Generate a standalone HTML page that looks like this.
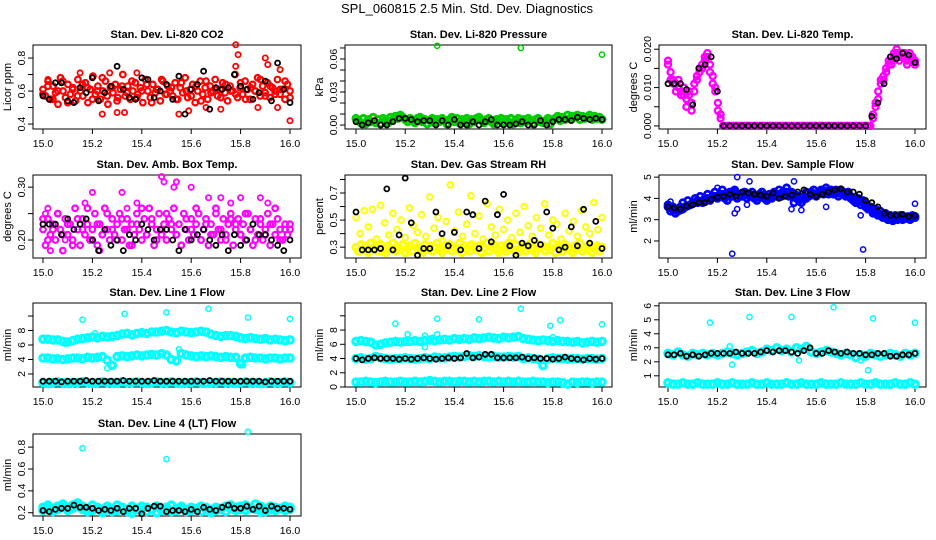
<!DOCTYPE html>
<html><head><meta charset="utf-8">
<style>
html,body{margin:0;padding:0;background:#fff;}
svg{display:block;font-family:"Liberation Sans",Arial,sans-serif;}
</style></head>
<body>
<svg id="chart" width="936" height="540" viewBox="0 0 936 540">
<text x="467" y="13" text-anchor="middle" font-size="13">SPL_060815  2.5 Min. Std. Dev. Diagnostics</text>
</svg>
<script>
// ---------- data ----------
const xTickLabels = ["15.0","15.2","15.4","15.6","15.8","16.0"];
const xTickValues = [15.0,15.2,15.4,15.6,15.8,16.0];

const co2Red = [0.61,0.57,0.66,0.55,0.63,0.59,0.52,0.68,0.6,0.56,0.64,0.58,0.62,0.54,0.67,0.6,0.57,0.65,0.53,0.61,0.69,0.58,0.63,0.55,0.6,0.66,0.52,0.62,0.59,0.64,0.56,0.61,0.7,0.57,0.63,0.55,0.6,0.65,0.58,0.62,0.53,0.67,0.6,0.56,0.64,0.59,0.61,0.54,0.66,0.58,0.63,0.6,0.57,0.65,0.55,0.62,0.59,0.68,0.56,0.61,0.64,0.53,0.6,0.66,0.58,0.62,0.55,0.63,0.6,0.67,0.57,0.61,0.65,0.59,0.54,0.63,0.6,0.7,0.56,0.62,0.58,0.66,0.61,0.55,0.64,0.6,0.68,0.57,0.63,0.59,0.65,0.56,0.62,0.6,0.67,0.58,0.61,0.55,0.64,0.6];
const co2Red2 = [0.58,0.63,0.55,0.6,0.66,0.53,0.61,0.57,0.64,0.62,0.55,0.6,0.68,0.57,0.62,0.54,0.63,0.59,0.66,0.56,0.6,0.64,0.53,0.61,0.67,0.58,0.62,0.55,0.65,0.6,0.57,0.63,0.54,0.66,0.59,0.61,0.56,0.64,0.6,0.58,0.65,0.55,0.62,0.6,0.67,0.57,0.63,0.58,0.61,0.66,0.56];
const co2OutX = [15.02,15.15,15.24,15.27,15.30,15.33,15.38,15.55,15.59,15.78,15.79,15.78,15.87,15.90,15.91,15.95,16.0,15.66,15.72,15.96];
const co2OutY = [0.67,0.71,0.46,0.71,0.47,0.47,0.71,0.46,0.48,0.88,0.82,0.75,0.50,0.80,0.76,0.50,0.42,0.50,0.49,0.73];
const co2Black = [0.57,0.55,0.65,0.65,0.54,0.53,0.62,0.59,0.68,0.54,0.59,0.63,0.75,0.61,0.56,0.55,0.68,0.67,0.56,0.6,0.64,0.55,0.69,0.46,0.61,0.64,0.72,0.49,0.62,0.61,0.62,0.7,0.63,0.61,0.55,0.59,0.66,0.54,0.77,0.61,0.53];

const presGreen = [0.006,0.004,0.002,0.006,0.001,0.005,0.003,0.007,0.002,0.005,0.001,0.006,0.004,0.002,0.007,0.005,0.008,0.006,0.009,0.007,0.005,0.003,0.006,0.004,0.002,0.006,0.007,0.003,0.005,0.001,0.004,0.006,0.002,0.005,0.003,0.006,0.004,0.001,0.005,0.007,0.003,0.006,0.002,0.005,0.004,0.006,0.001,0.005,0.003,0.006,0.007,0.004,0.002,0.005,0.006,0.003,0.001,0.005,0.004,0.006,0.002,0.005,0.003,0.006,0.001,0.004,0.006,0.002,0.005,0.003,0.006,0.004,0.001,0.005,0.006,0.003,0.002,0.004,0.006,0.001,0.005,0.006,0.008,0.004,0.007,0.005,0.009,0.006,0.008,0.007,0.009,0.005,0.008,0.006,0.007,0.009,0.005,0.008,0.006,0.007,0.005];
const presOutX = [15.33,15.67,16.0];
const presOutY = [0.072,0.070,0.064];
const presBlack = [0.003,0.000,0.002,0.004,0.000,0.000,0.003,0.006,0.006,0.005,0.003,0.004,0.004,0.0,0.004,0.0,0.005,0.0,0.0,0.003,0.0,0.003,0.005,0.0,0.0,0.0,0.001,0.003,0.0,0.0,0.004,0.0,0.003,0.005,0.005,0.004,0.007,0.006,0.005,0.006,0.005];

const tempA = [0.016,0.014,0.012,0.011,0.010,0.009,0.008,0.007,0.008,0.006,0.009,0.012,0.014,0.015,0.017,0.018,0.016,0.013,0.010,0.006,0.002,
0,0,0,0,0,0,0,0,0,0,0,0,0,0,0,0,0,0,0,0,0,0,0,0,0,0,0,0,0,0,0,0,0,0,0,0,0,0,0,0,0,0,0,0,0,0,0,0,0,0,0,0,0,0,0,0,0,
0.003,0.006,0.009,0.011,0.013,0.015,0.016,0.017,0.018,0.019,0.018,0.019,0.018,0.017,0.018,0.017,0.016];
const tempB = [0.017,0.012,0.011,0.009,0.012,0.008,0.010,0.005,0.009,0.004,0.011,0.013,0.015,0.016,0.018,0.019,0.014,0.011,0.009,0.004,0.003,
0,0,0,0,0,0,0,0,0,0,0,0,0,0,0,0,0,0,0,0,0,0,0,0,0,0,0,0,0,0,0,0,0,0,0,0,0,0,0,0,0,0,0,0,0,0,0,0,0,0,0,0,0,0,0,0,0,
0.002,0.005,0.007,0.012,0.012,0.014,0.017,0.016,0.019,0.020,0.017,0.018,0.019,0.016,0.019,0.018,0.017];
const tempBlack = [0.011,0.011,0.011,0.0095,0.0055,0.015,0.016,0.018,0.009,0,0,0,0,0,0,0,0,0,0,0,0,0,0,0,0,0,0,0,0,0,0,0,0,0.0025,0.006,0.011,0.018,0.0175,0.019,0.0185,0.0165];

const ambMag = [0.22,0.19,0.24,0.21,0.23,0.2,0.25,0.22,0.18,0.24,0.21,0.23,0.2,0.26,0.22,0.19,0.24,0.21,0.23,0.2,0.22,0.25,0.19,0.23,0.21,0.26,0.22,0.2,0.24,0.21,0.23,0.25,0.2,0.22,0.24,0.19,0.23,0.21,0.25,0.22,0.2,0.24,0.21,0.26,0.23,0.19,0.22,0.25,0.21,0.23,0.2,0.24,0.22,0.26,0.21,0.23,0.19,0.25,0.22,0.2,0.24,0.21,0.23,0.25,0.2,0.22,0.24,0.19,0.23,0.21,0.26,0.22,0.2,0.24,0.21,0.23,0.25,0.19,0.22,0.24,0.21,0.23,0.2,0.25,0.22,0.19,0.24,0.21,0.23,0.2,0.22,0.25,0.19,0.23,0.21,0.24,0.22,0.2,0.23,0.21,0.22];
const ambMag2 = [0.24,0.2,0.22,0.25,0.21,0.23,0.19,0.24,0.22,0.26,0.2,0.23,0.21,0.25,0.22,0.2,0.24,0.22,0.19,0.23,0.26,0.21,0.24,0.2,0.22,0.25,0.23,0.21,0.19,0.24,0.22,0.26,0.2,0.23,0.21,0.25,0.22,0.2,0.24,0.23,0.21,0.25,0.22,0.2,0.24,0.21,0.23,0.26,0.2,0.22,0.23];
const ambOutX = [15.01,15.02,15.06,15.2,15.17,15.32,15.34,15.38,15.48,15.49,15.53,15.54,15.6,15.67,15.72,15.76,15.8,15.88,15.91,15.94,15.03,15.23,15.09];
const ambOutY = [0.25,0.26,0.25,0.29,0.27,0.29,0.26,0.27,0.32,0.31,0.3,0.31,0.3,0.28,0.28,0.27,0.28,0.28,0.27,0.26,0.18,0.18,0.2];
const ambBlack = [0.23,0.23,0.23,0.21,0.24,0.22,0.23,0.24,0.2,0.18,0.22,0.19,0.2,0.18,0.21,0.2,0.23,0.22,0.2,0.22,0.22,0.2,0.18,0.22,0.2,0.21,0.22,0.2,0.19,0.21,0.18,0.21,0.19,0.2,0.23,0.21,0.21,0.2,0.19,0.18,0.2];

const rhBand = [0.3,0.27,0.32,0.28,0.31,0.26,0.33,0.29,0.3,0.27,0.32,0.28,0.26,0.31,0.29,0.33,0.27,0.3,0.28,0.32,0.26,0.29,0.31,0.27,0.33,0.3,0.28,0.26,0.32,0.29,0.31,0.27,0.3,0.33,0.28,0.26,0.31,0.29,0.32,0.27,0.3,0.28,0.33,0.26,0.31,0.29,0.27,0.32,0.3,0.28,0.31,0.26,0.29,0.33,0.27,0.3,0.32,0.28,0.26,0.31,0.29,0.27,0.33,0.3,0.28,0.32,0.26,0.29,0.31,0.27,0.3,0.33,0.28,0.26,0.32,0.29,0.31,0.27,0.3,0.28,0.33,0.26,0.31,0.29,0.27,0.32,0.3,0.28,0.26,0.31,0.29,0.33,0.27,0.3,0.28,0.32,0.26,0.29,0.31,0.27,0.3];
const rhScatter = [0.52,0.4,0.57,0.45,0.58,0.36,0.61,0.48,0.39,0.55,0.43,0.5,0.37,0.59,0.46,0.41,0.54,0.38,0.67,0.44,0.52,0.35,0.49,0.76,0.42,0.56,0.38,0.47,0.68,0.4,0.53,0.36,0.62,0.45,0.39,0.58,0.43,0.5,0.37,0.55,0.41,0.6,0.46,0.38,0.52,0.44,0.62,0.39,0.5,0.47,0.36,0.55,0.42,0.49,0.38,0.57,0.45,0.4,0.63,0.43,0.52];
const rhBlack = [0.56,0.28,0.28,0.28,0.29,0.73,0.28,0.39,0.81,0.48,0.24,0.29,0.29,0.56,0.4,0.31,0.41,0.28,0.56,0.54,0.29,0.64,0.34,0.54,0.69,0.31,0.24,0.33,0.31,0.35,0.32,0.56,0.44,0.28,0.3,0.45,0.31,0.58,0.33,0.49,0.29];

const flowBlue = [3.6,3.55,3.5,3.45,3.4,3.45,3.5,3.6,3.65,3.7,3.75,3.8,3.8,3.85,3.9,3.95,4.0,4.0,4.05,4.1,4.1,4.15,4.2,4.15,4.1,4.2,4.25,4.3,4.2,4.1,4.2,4.15,4.2,4.1,4.15,4.1,4.05,4.1,4.15,4.1,4.0,4.05,4.1,4.15,4.2,4.2,4.25,4.2,4.3,4.25,4.3,4.2,4.15,4.1,4.0,3.95,4.0,4.1,4.15,4.2,4.2,4.25,4.3,4.3,4.35,4.3,4.35,4.3,4.3,4.25,4.3,4.3,4.2,4.2,4.1,4.0,3.95,3.9,3.85,3.8,3.7,3.6,3.5,3.4,3.35,3.3,3.25,3.2,3.15,3.1,3.1,3.05,3.1,3.1,3.05,3.1,3.1,3.05,3.1,3.1,3.15];
const flowBlue2 = [3.7,3.4,3.6,3.3,3.5,3.6,3.8,3.6,3.9,3.7,3.8,4.0,3.9,4.1,3.8,4.0,4.2,3.9,4.1,4.3,4.0,4.2,4.4,4.0,3.9,4.3,4.1,4.4,4.0,4.2,4.1,4.3,4.0,4.2,4.3,4.0,3.9,4.2,4.3,4.0,3.9,4.2,4.0,4.3,4.1,4.4,4.1,4.3,4.5,4.1,4.2,3.8,4.0,3.9,3.8,4.1,4.3,4.1,4.3,4.4,4.1,4.2,4.4,4.2,4.5,4.2,4.4,4.2,4.4,4.1,4.4,4.2,4.1,4.3,4.0,3.9,3.8,4.0,3.7,3.9,3.6,3.5,3.6,3.3,3.5,3.2,3.4,3.1,3.3,3.0,3.2,2.95,3.2,3.0,3.2,3.0,3.1,3.15,3.0,3.2,3.1];
const flowOutX = [15.26,15.79,15.28,15.33,15.27,15.28,15.51,15.5,15.64,15.78,16.0,15.2,15.01,15.08,15.32,15.54];
const flowOutY = [1.4,1.6,5.0,4.8,3.3,3.5,4.8,3.5,3.6,3.2,3.75,4.5,3.85,3.9,3.7,3.45];
const flowBlack = [3.6,3.55,3.5,3.65,3.7,3.8,3.8,3.95,4.05,4.1,4.2,4.1,4.3,4.25,4.2,4.15,4.1,4.25,4.0,4.1,4.15,4.3,4.4,4.2,4.1,4.2,4.3,4.4,4.45,4.3,4.3,4.2,3.9,3.8,3.6,3.3,3.2,3.2,3.25,3.15,3.2];

const l1Up = [6.8,6.8,6.7,6.7,6.5,6.4,6.6,6.8,6.9,7.0,7.1,7.0,7.2,7.1,7.2,7.3,7.5,7.6,7.4,7.6,7.7,7.6,7.8,7.8,7.9,8.0,7.8,7.7,7.9,7.8,7.7,7.8,7.9,7.8,7.5,7.3,7.2,7.3,7.3,7.2,7.0,6.9,7.0,6.9,6.8,6.9,6.7,6.8,6.7,6.6,6.7];
const l1Mid = [4.2,4.2,4.1,4.1,4.0,4.1,4.2,4.2,4.1,4.3,4.2,4.3,4.4,3.9,3.2,4.4,4.5,4.4,4.5,4.6,4.5,4.6,4.7,4.6,4.8,4.6,4.0,3.8,4.8,4.6,4.5,4.4,4.5,4.4,4.5,4.4,4.3,4.4,4.3,4.3,3.4,4.2,4.3,4.2,4.2,4.1,4.2,4.2,4.1,4.2,4.2];
const l1Low = [0.8,0.7,0.8,0.9,0.8,0.7,0.8,0.8,0.9,0.8,0.7,0.8,0.9,0.8,0.8,0.7,0.9,0.8,0.8,0.9,0.8,0.7,0.8,0.9,0.8,0.8,0.9,0.8,0.7,0.8,0.8,0.9,0.8,0.7,0.8,0.8,0.9,0.8,0.8,0.7,0.8,0.9,0.8,0.8,0.7,0.8,0.9,0.8,0.8,0.9,0.8];
const l1OutX = [15.16,15.33,15.5,15.67,15.83,16.0,15.26,15.81,15.55,15.09,15.21];
const l1OutY = [9.5,10.3,10.5,11.0,9.8,9.6,2.8,3.2,5.4,6.2,7.6];
const l1Black = [1.0,1.0,1.0,0.9,1.0,1.0,1.0,1.1,1.0,1.0,1.0,1.0,1.0,1.1,1.0,1.0,1.0,1.0,1.1,1.0,1.0,1.0,1.0,1.0,1.0,1.0,1.0,1.1,1.0,1.0,1.0,1.0,1.0,1.0,1.0,1.0,0.9,1.0,1.0,1.0,1.0];

const l2Up = [6.4,6.5,6.4,6.3,5.9,6.0,6.2,6.3,6.4,6.3,6.4,6.4,6.5,6.4,6.5,6.6,6.5,6.6,6.7,6.6,6.8,6.7,6.8,6.7,6.9,6.8,6.9,7.0,6.9,6.8,7.0,6.9,7.0,7.1,6.8,6.7,6.6,6.5,6.6,6.5,6.4,6.5,6.4,6.4,6.3,6.4,6.2,6.3,6.4,6.3,6.4];
const l2Mid = [4.0,4.1,3.9,4.0,4.3,4.1,4.0,3.9,4.0,4.0,4.1,4.0,3.9,4.0,4.1,4.0,4.2,4.1,4.1,4.2,4.3,4.2,4.3,4.4,4.3,4.4,4.3,4.2,4.3,4.2,4.2,4.3,4.2,4.3,4.0,4.1,4.0,3.9,3.0,4.0,4.1,4.0,4.0,3.9,4.0,4.0,3.9,4.0,4.0,3.9,4.0];
const l2Low = [0.7,0.7,0.8,0.7,0.6,0.7,0.8,0.7,0.7,0.8,0.7,0.7,0.8,0.7,0.8,0.9,0.8,0.7,0.8,0.8,0.7,0.8,0.8,0.7,0.8,0.7,0.8,0.8,0.7,0.8,0.7,0.8,0.7,0.8,0.7,0.7,0.8,0.7,0.7,0.6,0.7,0.7,0.6,0.4,0.7,0.6,0.7,0.7,0.6,0.7,0.7];
const l2OutX = [15.16,15.21,15.28,15.28,15.33,15.33,15.5,15.67,15.79,15.83,16.0,15.8,15.31];
const l2OutY = [8.9,7.4,5.6,7.2,9.6,7.4,9.5,11.0,8.6,9.4,8.8,7.0,6.9];
const l2Black = [4.0,3.8,4.0,4.1,4.0,4.0,4.0,3.9,4.0,3.9,4.0,4.1,4.0,3.9,4.0,4.1,4.0,4.1,4.7,4.1,4.2,4.6,4.6,4.1,4.1,4.1,4.1,4.2,4.0,4.1,4.0,4.0,3.9,4.0,4.2,4.0,3.9,3.8,4.0,3.9,4.0];

const l3Up = [2.6,2.5,2.7,2.5,2.4,2.6,2.5,2.6,2.5,2.6,2.5,2.6,2.7,2.6,2.5,2.6,2.7,2.8,2.6,2.7,2.9,2.8,3.0,2.8,2.9,2.7,3.0,2.9,3.1,2.7,2.6,2.7,2.8,2.7,2.6,2.5,2.6,2.5,2.3,2.5,2.4,2.6,2.5,2.4,2.5,2.6,2.5,2.4,2.6,2.5,2.6];
const l3Low = [0.5,0.4,0.4,0.5,0.4,0.4,0.5,0.4,0.4,0.4,0.5,0.4,0.4,0.5,0.4,0.4,0.4,0.5,0.4,0.4,0.5,0.4,0.4,0.4,0.5,0.4,0.4,0.5,0.4,0.4,0.4,0.5,0.4,0.4,0.4,0.5,0.4,0.4,0.4,0.5,0.4,0.4,0.5,0.4,0.4,0.4,0.5,0.4,0.4,0.5,0.4];
const l3OutX = [15.17,15.33,15.5,15.67,15.83,16.0,15.25,15.26,15.53,15.78,15.81,15.56,15.79];
const l3OutY = [4.8,5.2,5.2,5.9,5.1,4.8,3.1,1.8,2.1,2.1,1.4,3.1,2.3];
const l3Black = [2.5,2.5,2.6,2.4,2.5,2.4,2.5,2.6,2.6,2.6,2.6,2.7,2.6,2.6,2.6,2.7,2.8,2.7,2.8,2.8,2.7,2.6,2.8,3.0,2.6,2.6,2.8,2.7,2.6,2.7,2.6,2.6,2.5,2.5,2.6,2.6,2.4,2.4,2.5,2.5,2.6];

const l4Band = [0.25,0.27,0.24,0.26,0.28,0.25,0.27,0.29,0.26,0.24,0.27,0.25,0.23,0.26,0.24,0.27,0.25,0.23,0.26,0.24,0.26,0.25,0.23,0.26,0.24,0.25,0.27,0.24,0.26,0.23,0.25,0.24,0.26,0.25,0.23,0.25,0.24,0.26,0.27,0.25,0.26,0.27,0.25,0.28,0.26,0.24,0.26,0.25,0.24,0.26,0.25];
const l4Band2 = [0.22,0.24,0.21,0.23,0.25,0.22,0.24,0.26,0.23,0.21,0.22,0.24,0.2,0.23,0.21,0.22,0.24,0.21,0.2,0.23,0.22,0.21,0.23,0.2,0.22,0.23,0.21,0.22,0.24,0.21,0.22,0.23,0.21,0.23,0.2,0.22,0.23,0.21,0.24,0.22,0.23,0.22,0.24,0.23,0.22,0.21,0.23,0.22,0.24,0.22,0.23];
const l4OutX = [15.16,15.5,15.83,15.36,15.88];
const l4OutY = [0.79,0.69,0.94,0.18,0.19];
const l4Black = [0.22,0.21,0.23,0.24,0.24,0.27,0.25,0.25,0.24,0.22,0.23,0.22,0.24,0.21,0.24,0.24,0.19,0.24,0.26,0.26,0.21,0.22,0.22,0.21,0.23,0.21,0.25,0.23,0.22,0.25,0.27,0.24,0.24,0.26,0.23,0.26,0.22,0.26,0.24,0.24,0.23];

// ---------- layout ----------
const colX = [[33,301,43,290],[345,612,356,602],[659,926,668,915]];
const rowY = [[45,129],[175,258],[303,387],[434,516]];
const panels = [
 {t:"Stan. Dev. Li-820 CO2",yl:"Licor ppm",c:0,r:0,y0:0.37,y1:0.879,ticks:[0.4,0.5,0.6,0.7,0.8],labs:["0.4","","0.6","","0.8"]},
 {t:"Stan. Dev. Li-820 Pressure",yl:"kPa",c:1,r:0,y0:-0.0036,y1:0.0727,ticks:[0,0.01,0.02,0.03,0.04,0.05,0.06,0.07],labs:["0.00","","","0.03","","","0.06",""]},
 {t:"Stan. Dev. Li-820 Temp.",yl:"degrees C",c:2,r:0,y0:-0.0008,y1:0.0211,ticks:[0,0.005,0.01,0.015,0.02],labs:["0.000","","0.010","","0.020"]},
 {t:"Stan. Dev. Amb. Box Temp.",yl:"degrees C",c:0,r:1,y0:0.166,y1:0.323,ticks:[0.2,0.25,0.3],labs:["0.20","","0.30"]},
 {t:"Stan. Dev. Gas Stream RH",yl:"percent",c:1,r:1,y0:0.22,y1:0.833,ticks:[0.3,0.4,0.5,0.6,0.7,0.8],labs:["0.3","","0.5","","0.7",""]},
 {t:"Stan. Dev. Sample Flow",yl:"ml/min",c:2,r:1,y0:1.2,y1:5.1,ticks:[2,3,4,5],labs:["2","3","4","5"]},
 {t:"Stan. Dev. Line 1 Flow",yl:"ml/min",c:0,r:2,y0:0.2,y1:11.8,ticks:[2,4,6,8,10],labs:["2","4","6","8",""]},
 {t:"Stan. Dev. Line 2 Flow",yl:"ml/min",c:1,r:2,y0:0,y1:11.8,ticks:[0,2,4,6,8,10],labs:["0","2","4","6","8",""]},
 {t:"Stan. Dev. Line 3 Flow",yl:"ml/min",c:2,r:2,y0:0.2,y1:6.2,ticks:[1,2,3,4,5,6],labs:["1","2","3","4","5","6"]},
 {t:"Stan. Dev. Line 4 (LT) Flow",yl:"ml/min",c:0,r:3,y0:0.17,y1:0.92,ticks:[0.2,0.4,0.6,0.8],labs:["0.2","0.4","0.6","0.8"]}
];
const NS="http://www.w3.org/2000/svg";
const svg=document.getElementById('chart');
function mk(tag,attrs,parent){const e=document.createElementNS(NS,tag);for(const k in attrs)e.setAttribute(k,attrs[k]);(parent||svg).appendChild(e);return e;}
function xs(p,v){const c=colX[p.c];return c[2]+(v-15)*(c[3]-c[2]);}
function ys(p,v){const r=rowY[p.r];return r[1]-(v-p.y0)/(p.y1-p.y0)*(r[1]-r[0]);}
const groups=[];
panels.forEach((p,i)=>{
 const g=mk('g',{});
 
 
 groups.push(g);
 const c=colX[p.c],r=rowY[p.r];
 const tt=mk('text',{x:(c[0]+c[1])/2,y:r[0]-7,'text-anchor':'middle','font-size':11,'font-weight':'bold'},g);
 tt.textContent=p.t;
 
 
 const yl=mk('text',{x:0,y:0,'text-anchor':'middle','font-size':11,transform:`translate(${c[0]-22},${(r[0]+r[1])/2}) rotate(-90)`},g);
 yl.textContent=p.yl;
 
 
 const xa=mk('g',{},g);
 
 
 mk('line',{x1:xs(p,15),x2:xs(p,16),y1:r[1],y2:r[1],stroke:'#000'},xa);
 xTickValues.forEach((v,k)=>{
  mk('line',{x1:xs(p,v),x2:xs(p,v),y1:r[1],y2:r[1]+5,stroke:'#000'},xa);
  const t=mk('text',{x:xs(p,v),y:r[1]+18,'text-anchor':'middle','font-size':10.5},xa);
  t.textContent=xTickLabels[k];
 });
 const ya=mk('g',{},g);
 
 
 p.ticks.forEach((v,k)=>{
  const y=ys(p,v); if(y<r[0]-1||y>r[1]+1)return;
  mk('line',{x1:c[0]-5,x2:c[0],y1:y,y2:y,stroke:'#000'},ya);
  if(p.labs[k]){const t=mk('text',{x:0,y:0,'text-anchor':'middle','font-size':10.5,transform:`translate(${c[0]-8},${y}) rotate(-90)`},ya);t.textContent=p.labs[k];}
 });
 const box=mk('rect',{x:c[0],y:r[0],width:c[1]-c[0],height:r[1]-r[0],fill:'none',stroke:'#000'},g);
 
 
});
function pts(pi,xv,yv,color,name,rad,sw){
 const p=panels[pi];
 const g=mk('g',{fill:'none',stroke:color,'stroke-width':sw||1.5},groups[pi]);
 
 
 yv.forEach((v,k)=>{
  const x=xv?xv[k]:15+k/(yv.length-1);
  const cc=mk('circle',{cx:xs(p,x).toFixed(1),cy:ys(p,v).toFixed(1),r:rad||2.6},g);
  
  
 });
}
const RED='#ff0000',GRN='#00cc00',MAG='#ff00ff',YEL='#ffff00',BLU='#0000ff',CY='#00ffff',BK='#000';
pts(0,null,co2Red,RED,'co2-series',2.8,2.2);pts(0,null,co2Red2,RED,'co2-series-b',2.8,2.2);pts(0,co2OutX,co2OutY,RED,'co2-outliers',2.6,1.8);pts(0,null,co2Black,BK,'co2-black-series',2.5,1.8);
pts(1,null,presGreen,GRN,'pressure-series',3,3);pts(1,presOutX,presOutY,GRN,'pressure-outliers');pts(1,null,presBlack,BK,'pressure-black-series',2.5,1.8);
pts(2,null,tempA,MAG,'temp-series',3,2.4);pts(2,null,tempB,MAG,'temp-series-b',3,2.4);pts(2,null,tempBlack,BK,'temp-black-series',2.5,1.8);
pts(3,null,ambMag,MAG,'amb-series',2.8,2.2);pts(3,null,ambMag2,MAG,'amb-series-b',2.8,2.2);pts(3,ambOutX,ambOutY,MAG,'amb-outliers',2.6,1.8);pts(3,null,ambBlack,BK,'amb-black-series',2.5,1.8);
pts(4,null,rhBand,YEL,'rh-band',3,3);pts(4,null,rhScatter,YEL,'rh-scatter',2.8,2);pts(4,null,rhBlack,BK,'rh-black-series',2.5,1.8);
pts(5,null,flowBlue,BLU,'sample-flow-series',3,2.8);pts(5,null,flowBlue2,BLU,'sample-flow-series-b',3,2.8);pts(5,flowOutX,flowOutY,BLU,'sample-flow-outliers');pts(5,null,flowBlack,BK,'sample-flow-black-series',2.5,1.8);
pts(6,null,l1Up,CY,'line1-upper',3.2,3.2);pts(6,null,l1Mid,CY,'line1-mid',3.2,3.2);pts(6,null,l1Low,CY,'line1-low',3.2,3.2);pts(6,l1OutX,l1OutY,CY,'line1-outliers');pts(6,null,l1Black,BK,'line1-black-series',2.5,1.8);
pts(7,null,l2Up,CY,'line2-upper',3.2,3.2);pts(7,null,l2Mid,CY,'line2-mid',3.2,3.2);pts(7,null,l2Low,CY,'line2-low',3.2,3.2);pts(7,l2OutX,l2OutY,CY,'line2-outliers');pts(7,null,l2Black,BK,'line2-black-series',2.5,1.8);
pts(8,null,l3Up,CY,'line3-upper',3.2,3.2);pts(8,null,l3Low,CY,'line3-low',3.2,3.2);pts(8,l3OutX,l3OutY,CY,'line3-outliers');pts(8,null,l3Black,BK,'line3-black-series',2.5,1.8);
pts(9,null,l4Band,CY,'line4-band',3.2,3.2);pts(9,null,l4Band2,CY,'line4-band-b',3.2,3.2);pts(9,l4OutX,l4OutY,CY,'line4-outliers');pts(9,null,l4Black,BK,'line4-black-series',2.5,1.8);
</script>
</body></html>
